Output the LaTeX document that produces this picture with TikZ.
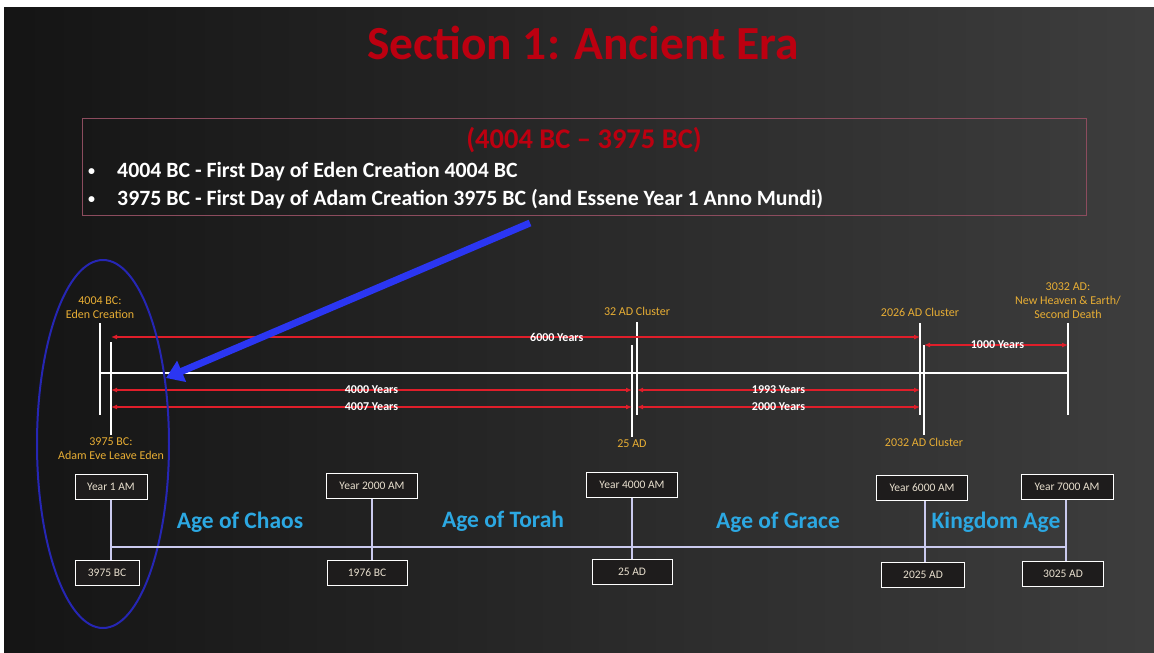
\documentclass[tikz,border=0pt]{standalone}
\usepackage{fontspec}
\setmainfont{Carlito}
\usetikzlibrary{arrows.meta,shapes.geometric}

\definecolor{titlered}{HTML}{BC0010}
\definecolor{gold}{HTML}{E8AE34}
\definecolor{spanred}{HTML}{E01E2A}
\definecolor{agecyan}{HTML}{2CA8E2}
\definecolor{ovalblue}{HTML}{2626B4}
\definecolor{pointerblue}{HTML}{2B36F2}
\definecolor{boxrim}{HTML}{8C4C5E}
\definecolor{boxtext}{HTML}{E8DFCE}
\definecolor{axislilac}{HTML}{CACAEE}
\definecolor{boxfill}{HTML}{1E1C1C}

\newcommand{\eraitem}{\makebox[29pt][l]{\raisebox{2pt}{\fontsize{14}{14}\selectfont\textbullet}}}

\tikzset{
  mark line/.style={white, line width=1.6pt},
  span/.style={spanred, line width=1.6pt, {Latex[length=6pt,width=5pt]}-{Latex[length=6pt,width=5pt]}},
  span label/.style={text=white, inner sep=0pt, font=\bfseries\fontsize{12}{13}\selectfont},
  gold label/.style={text=gold, inner sep=0pt, align=center, font=\fontsize{12}{14}\selectfont},
  year box/.style={draw=white, fill=boxfill, line width=1pt, text=boxtext, inner sep=0pt,
    minimum height=25pt, font=\fontsize{11.5}{13}\selectfont},
  bullet line/.style={anchor=base west, text=white, inner sep=0pt, font=\bfseries\fontsize{21.8}{24}\selectfont},
  stem/.style={axislilac, line width=1.4pt},
  age/.style={text=agecyan, font=\bfseries\fontsize{23.5}{26}\selectfont},
}

\begin{document}
\begin{tikzpicture}[x=1pt,y=-1pt]
  % page and slide background
  \useasboundingbox (0,0) rectangle (1154,653);
  \fill[white] (0,0) rectangle (1154,653);
  \shade[left color=black!92, middle color=black!64, right color=black!76] (4,7) rectangle (1154,653);

  % title
  \node[text=titlered, font=\bfseries\fontsize{47.5}{56}\selectfont] (title) at (583,43) {Section 1: Ancient Era};

  % era box with its two bullets
  \node[draw=boxrim, line width=0.8pt, minimum width=1004pt, minimum height=97pt] (era) at (584,166.5) {};
  \node[text=titlered, font=\bfseries\fontsize{28.5}{32}\selectfont] (span) at (584,140) {(4004 BC -- 3975 BC)};
  \node[bullet line] (first) at (88,177) {\eraitem 4004 BC - First Day of Eden Creation 4004 BC};
  \node[bullet line] (second) at (88,205) {\eraitem 3975 BC - First Day of Adam Creation 3975 BC (and Essene Year 1 Anno Mundi)};

  % year marks on the upper line
  \foreach \name/\x/\hi/\lo in {eden/100/323/415, adam/111/342/435, cl32/637/322/415, ad25/632/345/437,
    cl2026/920/323/415, cl2032/924/345/435, ad3032/1068/323/415} {
    \coordinate (top-\name) at (\x,\hi);
    \coordinate (bot-\name) at (\x,\lo);
    \draw[mark line] (top-\name) -- (bot-\name);
  }
  \coordinate (upper) at (0,373);
  \draw[mark line] (top-eden |- upper) -- (top-ad3032 |- upper);

  % labels of the marks
  \node[gold label, anchor=south] (eden lab) at ([yshift=4pt]top-eden) {4004 BC:\\Eden Creation};
  \node[gold label, anchor=north] (adam lab) at ([yshift=-3pt]bot-adam) {3975 BC:\\Adam Eve Leave Eden};
  \node[gold label, anchor=south] (cl32 lab) at ([yshift=6pt]top-cl32) {32 AD Cluster};
  \node[gold label, anchor=north] (ad25 lab) at ([yshift=-3pt]bot-ad25) {25 AD};
  \node[gold label, anchor=south] (cl2026 lab) at ([yshift=6pt]top-cl2026) {2026 AD Cluster};
  \node[gold label, anchor=north] (cl2032 lab) at ([yshift=-3pt]bot-cl2032) {2032 AD Cluster};
  \node[gold label, anchor=south] (ad3032 lab) at ([yshift=4pt]top-ad3032) {3032 AD:\\New Heaven \& Earth/\\Second Death};

  % spans in years
  \draw[span] (top-adam |- 0,337) -- (top-cl2026 |- 0,337) node[span label, pos=0.551] (y6000) {6000 Years};
  \draw[span] (top-cl2032 |- 0,345) -- (top-ad3032 |- 0,345) node[span label, pos=0.51] (y1000) {1000 Years};
  \draw[span] (top-adam |- 0,390) -- (top-ad25 |- 0,390) node[span label, midway] (y4000) {4000 Years};
  \draw[span] (top-adam |- 0,407) -- (top-ad25 |- 0,407) node[span label, midway] (y4007) {4007 Years};
  \draw[span] (top-cl32 |- 0,390) -- (top-cl2026 |- 0,390) node[span label, midway] (y1993) {1993 Years};
  \draw[span] (top-cl32 |- 0,407) -- (top-cl2026 |- 0,407) node[span label, midway] (y2000) {2000 Years};

  % oval and pointer
  \node[draw=ovalblue, line width=2pt, ellipse, minimum width=132pt, minimum height=368pt, inner sep=0pt] (oval) at (103,444) {};
  \coordinate (pointer start) at (530,223);
  \coordinate (pointer end) at (166,378);
  \draw[pointerblue, line width=7pt, -{Triangle[length=17pt,width=22pt]}] (pointer start) -- (pointer end);

  % lower line of ages
  \foreach \name/\x/\y/\w/\txt in {am1/111/487/72/Year 1 AM, am2000/372/486/91/Year 2000 AM,
    am4000/632/485/91/Year 4000 AM, am6000/922/488/91/Year 6000 AM, am7000/1067/487/92/Year 7000 AM,
    bc3975/107/573/64/3975 BC, bc1976/367/573/80/1976 BC, ad25box/632/572/80/25 AD,
    ad2025/923/575/83/2025 AD, ad3025/1063/574/81/3025 AD}
    \node[year box, minimum width=\w pt] (\name) at (\x,\y) {\txt};

  \coordinate (lower) at (0,547);
  \coordinate (lower end) at (1066,547);
  \draw[stem] (am1.south |- lower) -- (lower end);
  \draw[stem] (am1.south) -- (am1.south |- bc3975.north);
  \draw[stem] (am2000.south) -- (am2000.south |- bc1976.north);
  \draw[stem] (am4000.south) -- (am4000.south |- ad25box.north);
  \draw[stem] ([xshift=3pt]am6000.south) -- ([xshift=3pt]am6000.south |- ad2025.north);
  \draw[stem] ([xshift=-1pt]am7000.south) -- ([xshift=-1pt]am7000.south |- ad3025.north);

  \node[age] (chaos) at (240,522) {Age of Chaos};
  \node[age] (torah) at (503,521) {Age of Torah};
  \node[age] (grace) at (778,522) {Age of Grace};
  \node[age] (kingdom) at (996,522) {Kingdom Age};
\end{tikzpicture}
\end{document}
